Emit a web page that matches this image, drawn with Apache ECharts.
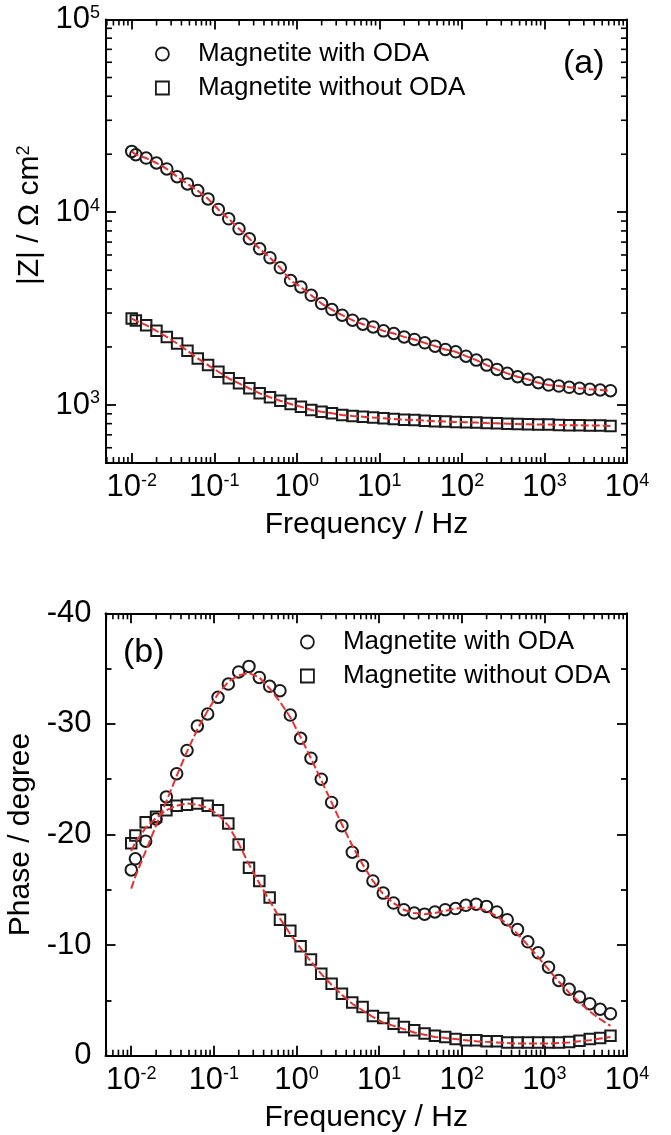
<!DOCTYPE html>
<html>
<head>
<meta charset="utf-8">
<script src="https://cdn.jsdelivr.net/npm/echarts@6/dist/echarts.min.js"></script>
<style>
html,body{margin:0;padding:0;background:#fff;}
#chart{width:671px;height:1135px;}
</style>
</head>
<body>
<div id="chart"></div>
<script>
// ---------- data ----------
const freq = [0.01, 0.01122, 0.01496, 0.01995, 0.02661, 0.03548, 0.04732, 0.0631, 0.08414,
  0.1122, 0.1496, 0.1995, 0.2661, 0.3548, 0.4732, 0.631, 0.8414,
  1.122, 1.496, 1.995, 2.661, 3.548, 4.732, 6.31, 8.414,
  11.22, 14.96, 19.95, 26.61, 35.48, 47.32, 63.1, 84.14,
  112.2, 149.6, 199.5, 266.1, 354.8, 473.2, 631, 841.4,
  1122, 1496, 1995, 2661, 3548, 4732, 6310];

const zWithODA = [20690, 19890, 19110, 18010, 16770, 15300, 14030, 12950, 11730,
  10330, 9245, 8207, 7285, 6466, 5809, 5150, 4420,
  4093, 3708, 3358, 3127, 2922, 2753, 2624, 2542,
  2424, 2349, 2256, 2188, 2101, 2020, 1942, 1887,
  1792, 1709, 1610, 1530, 1459, 1401, 1358, 1304,
  1269, 1254, 1235, 1220, 1206, 1196, 1186];

const zWithoutODA = [2809, 2740, 2594, 2424, 2256, 2085, 1910, 1744, 1610,
  1487, 1375, 1295, 1220, 1149, 1096, 1052, 1012,
  980, 942, 923, 906, 888, 877, 870, 860,
  853, 846, 839, 836, 829, 823, 820, 817,
  813, 810, 806, 803, 800, 797, 794, 791,
  791, 788, 785, 785, 782, 782, 779];

const phaseWithODA = [-16.8, -17.8, -19.4, -21.4, -23.4, -25.5, -27.6, -29.8, -30.9,
  -32.4, -33.6, -34.7, -35.2, -34.2, -33.4, -33.0, -30.8,
  -28.7, -26.9, -25.0, -22.9, -20.8, -18.4, -17.2, -15.8,
  -14.7, -13.8, -13.2, -12.9, -12.8, -13.0, -13.2, -13.3,
  -13.6, -13.7, -13.5, -13.0, -12.3, -11.4, -10.3, -9.3,
  -8.0, -6.8, -6.0, -5.3, -4.7, -4.2, -3.8];

const phaseWithoutODA = [-19.2, -19.9, -21.1, -21.6, -22.2, -22.6, -22.7, -22.8, -22.6,
  -22.2, -21.0, -19.1, -17.0, -15.8, -14.3, -12.3, -11.3,
  -9.9, -8.7, -7.4, -6.5, -5.6, -4.8, -4.4, -3.6,
  -3.4, -2.9, -2.6, -2.3, -2.0, -1.8, -1.7, -1.5,
  -1.4, -1.4, -1.3, -1.3, -1.2, -1.2, -1.2, -1.2,
  -1.2, -1.2, -1.25, -1.35, -1.5, -1.6, -1.8];

// fitted curves (red dashed lines)
const zFitWithODA = zWithODA;
const zFitWithoutODA = zWithoutODA;
const phaseFitWithODA = [-15.1, -16.2, -18.5, -20.8, -23.0, -25.3, -27.5, -29.5, -31.2,
  -32.7, -33.8, -34.4, -34.6, -34.2, -33.2, -32.0, -30.6,
  -28.8, -26.9, -24.9, -22.9, -20.9, -19.0, -17.3, -15.8,
  -14.6, -13.8, -13.2, -12.9, -12.8, -12.9, -13.1, -13.3,
  -13.4, -13.4, -13.1, -12.6, -11.9, -11.0, -10.0, -8.9,
  -7.8, -6.7, -5.7, -4.8, -4.0, -3.3, -2.7];
const phaseFitWithoutODA = [-18.5, -19.3, -20.6, -21.5, -22.2, -22.6, -22.8, -22.7, -22.4,
  -21.8, -20.8, -19.2, -17.3, -15.6, -14.0, -12.4, -11.0,
  -9.7, -8.5, -7.4, -6.4, -5.5, -4.7, -4.1, -3.5,
  -3.0, -2.7, -2.4, -2.1, -1.9, -1.7, -1.6, -1.5,
  -1.4, -1.3, -1.25, -1.2, -1.15, -1.1, -1.1, -1.1,
  -1.1, -1.15, -1.2, -1.3, -1.4, -1.55, -1.7];

// axes / ticks
const xMin = 0.00488, xMax = 10000;
const zMin = 500, zMax = 100000;
const xDecades = [-3, -2, -1, 0, 1, 2, 3];
const zDecades = [2, 3, 4];
const minorMultipliers = [2, 3, 4, 5, 6, 7, 8, 9];
const phaseMin = -40, phaseMax = 0, phaseStep = 10;

const seriesNames = ['Magnetite with ODA', 'Magnetite without ODA'];
const xTitle = 'Frequency / Hz';

// ---------- helpers ----------
const FONT = "'Liberation Sans', Arial, Helvetica, sans-serif";
const INK = '#1a1a1a';

function minorValues(decades, lo, hi) {
  const out = [];
  decades.forEach(d => minorMultipliers.forEach(m => {
    const v = +(m * Math.pow(10, d)).toPrecision(6);
    if (v > lo && v < hi) out.push(v);
  }));
  return out;
}
function pow10Label(v) {
  const l = Math.log10(v);
  const e = Math.round(l);
  if (Math.abs(l - e) > 1e-6) return '';
  return '{b|10}{s|' + e + '}';
}
const powRich = {
  b: { fontSize: 31, fontFamily: FONT, color: '#000' },
  s: { fontSize: 18, fontFamily: FONT, color: '#000', verticalAlign: 'top' }
};
const lineStyleAxis = { color: '#000', width: 2 };
const tickStyle = { color: '#000', width: 1.8 };

function xLogAxis(gridIndex, position, withLabel) {
  return {
    type: 'log', logBase: 10, gridIndex, position, min: xMin, max: xMax,
    axisLine: { show: true, onZero: false, lineStyle: lineStyleAxis },
    axisTick: { show: true, inside: true, length: 10, lineStyle: tickStyle },
    axisLabel: withLabel ? { show: true, margin: 9, formatter: pow10Label, rich: powRich } : { show: false },
    splitLine: { show: false },
    name: withLabel ? xTitle : '',
    nameLocation: 'middle', nameGap: 47,
    nameTextStyle: { fontSize: 30, fontFamily: FONT, color: '#000' }
  };
}
function zLogAxis(position, withLabel) {
  return {
    type: 'log', logBase: 10, gridIndex: 0, position, min: zMin, max: zMax,
    axisLine: { show: true, onZero: false, lineStyle: lineStyleAxis },
    axisTick: { show: true, inside: true, length: 10, lineStyle: tickStyle },
    axisLabel: withLabel ? { show: true, margin: 6, formatter: pow10Label, rich: powRich } : { show: false },
    splitLine: { show: false },
    name: withLabel ? '|Z| / \u03A9 cm{s|2}' : '',
    nameLocation: 'middle', nameGap: 57, nameRotate: 90,
    nameTextStyle: {
      fontSize: 30, fontFamily: FONT, color: '#000', padding: [0, 0, 0, 52],
      rich: { s: { fontSize: 18, fontFamily: FONT, color: '#000', verticalAlign: 'top' } }
    }
  };
}
function phaseAxis(position, withLabel) {
  return {
    type: 'value', gridIndex: 1, position, min: phaseMin, max: phaseMax, interval: phaseStep, inverse: true,
    axisLine: { show: true, onZero: false, lineStyle: lineStyleAxis },
    axisTick: { show: true, inside: true, length: 10, lineStyle: tickStyle },
    minorTick: { show: true, splitNumber: 2, length: 6, lineStyle: tickStyle },
    axisLabel: withLabel ? { show: true, margin: 14, fontSize: 31, fontFamily: FONT, color: '#000' } : { show: false },
    splitLine: { show: false },
    name: withLabel ? 'Phase / degree' : '',
    nameLocation: 'middle', nameGap: 68, nameRotate: 90,
    nameTextStyle: { fontSize: 30, fontFamily: FONT, color: '#000' }
  };
}
function minorTickSeries(xIdx, yIdx, data, dir) {
  return {
    type: 'custom', xAxisIndex: xIdx, yAxisIndex: yIdx, silent: true, z: 6,
    data,
    renderItem: function (params, api) {
      const cs = params.coordSys;
      const p = api.coord([api.value(0), api.value(1)]);
      const L = 6;
      const st = () => ({ stroke: '#000', lineWidth: 1.6 });
      if (dir === 'x') {
        const x = p[0];
        return { type: 'group', children: [
          { type: 'line', shape: { x1: x, y1: cs.y + cs.height, x2: x, y2: cs.y + cs.height - L }, style: st() },
          { type: 'line', shape: { x1: x, y1: cs.y, x2: x, y2: cs.y + L }, style: st() }
        ]};
      }
      const y = p[1];
      return { type: 'group', children: [
        { type: 'line', shape: { x1: cs.x, y1: y, x2: cs.x + L, y2: y }, style: st() },
        { type: 'line', shape: { x1: cs.x + cs.width, y1: y, x2: cs.x + cs.width - L, y2: y }, style: st() }
      ]};
    }
  };
}
function pts(ys) { return freq.map((f, i) => [f, ys[i]]); }
function scatter(name, symbol, size, ys, xi, yi) {
  return {
    type: 'scatter', name, xAxisIndex: xi, yAxisIndex: yi, symbol, symbolSize: size, z: 3,
    itemStyle: { color: 'rgba(0,0,0,0)', borderColor: INK, borderWidth: 2, opacity: 1 },
    data: pts(ys)
  };
}
function fitLine(ys, xi, yi) {
  return {
    type: 'line', name: 'fit', xAxisIndex: xi, yAxisIndex: yi, showSymbol: false, symbol: 'none', z: 5, silent: true,
    lineStyle: { color: '#e8302f', width: 2, type: [8, 3] },
    data: pts(ys)
  };
}
function legendAt(left, top) {
  return {
    orient: 'vertical', left, top, itemWidth: 13, itemHeight: 13, itemGap: 8, selectedMode: false,
    data: [{ name: seriesNames[0], icon: 'circle' }, { name: seriesNames[1], icon: 'rect' }],
    itemStyle: { color: 'rgba(0,0,0,0)', borderColor: INK, borderWidth: 1.8 },
    textStyle: { fontSize: 26, fontFamily: FONT, color: '#000', padding: [0, 0, 0, 24] }
  };
}

const xMinor = minorValues(xDecades, xMin, xMax);
const zMinor = minorValues(zDecades, zMin, zMax);

const option = {
  animation: false,
  backgroundColor: '#fff',
  textStyle: { fontFamily: FONT },
  title: [
    { text: '(a)', left: 563, top: 47, padding: 0, textStyle: { fontSize: 34, fontWeight: 'normal', fontFamily: FONT, color: '#000' } },
    { text: '(b)', left: 123, top: 636, padding: 0, textStyle: { fontSize: 34, fontWeight: 'normal', fontFamily: FONT, color: '#000' } }
  ],
  legend: [legendAt(150, 36), legendAt(295, 624)],
  grid: [
    { left: 106, top: 19.5, width: 521, height: 443.5, containLabel: false, outerBoundsMode: 'none' },
    { left: 105.5, top: 613.3, width: 521.5, height: 442.4, containLabel: false, outerBoundsMode: 'none' }
  ],
  xAxis: [xLogAxis(0, 'bottom', true), xLogAxis(0, 'top', false), xLogAxis(1, 'bottom', true), xLogAxis(1, 'top', false)],
  yAxis: [zLogAxis('left', true), zLogAxis('right', false), phaseAxis('left', true), phaseAxis('right', false)],
  series: [
    scatter(seriesNames[0], 'circle', 11.5, zWithODA, 0, 0),
    scatter(seriesNames[1], 'rect', 10.5, zWithoutODA, 0, 0),
    fitLine(zFitWithODA, 0, 0),
    fitLine(zFitWithoutODA, 0, 0),
    scatter(seriesNames[0], 'circle', 11.5, phaseWithODA, 2, 2),
    scatter(seriesNames[1], 'rect', 10.5, phaseWithoutODA, 2, 2),
    fitLine(phaseFitWithODA, 2, 2),
    fitLine(phaseFitWithoutODA, 2, 2),
    minorTickSeries(0, 0, xMinor.map(v => [v, 1000]), 'x'),
    minorTickSeries(0, 0, zMinor.map(v => [1, v]), 'y'),
    minorTickSeries(2, 2, xMinor.map(v => [v, -10]), 'x')
  ]
};

const chart = echarts.init(document.getElementById('chart'), null, { renderer: 'canvas' });
chart.setOption(option);
</script>
</body>
</html>
